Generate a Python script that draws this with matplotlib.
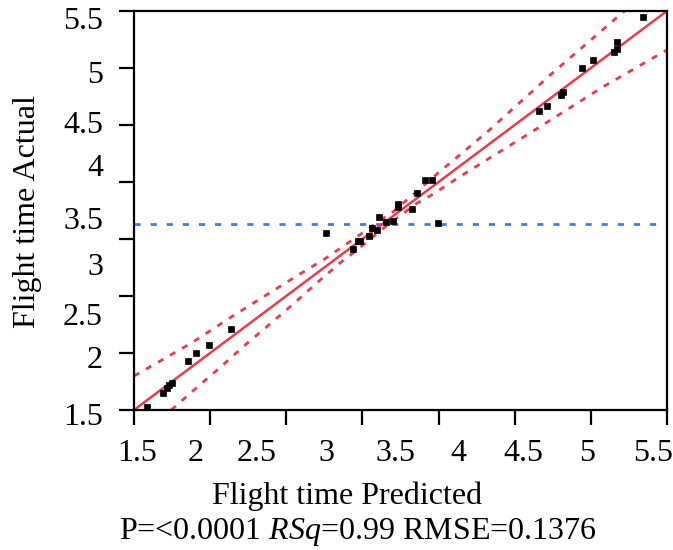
import numpy as np
import matplotlib
matplotlib.use('Agg')
import matplotlib.pyplot as plt

plt.rcParams['font.family'] = ['Liberation Serif', 'DejaVu Serif']
plt.rcParams['mathtext.fontset'] = 'custom'
plt.rcParams['mathtext.rm'] = 'Liberation Serif'
plt.rcParams['mathtext.it'] = 'Liberation Serif:italic'

# predicted vs actual flight time
predicted = [1.595, 1.72, 1.745, 1.765, 1.783, 1.903, 1.963, 2.063, 2.228,
             2.941, 3.141, 3.18, 3.20, 3.264, 3.284, 3.326, 3.341, 3.391, 3.441,
             3.484, 3.484, 3.584, 3.621, 3.684, 3.736, 3.784,
             4.542, 4.602, 4.702, 4.722, 4.86, 4.942, 5.102, 5.122, 5.122, 5.322]
actual = [1.533, 1.667, 1.717, 1.75, 1.774, 1.99, 2.068, 2.152, 2.312,
          3.271, 3.111, 3.19, 3.19, 3.244, 3.327, 3.303, 3.437, 3.383, 3.398,
          3.565, 3.538, 3.512, 3.672, 3.806, 3.806, 3.378,
          4.5, 4.551, 4.658, 4.688, 4.925, 5.009, 5.086, 5.115, 5.192, 5.435]

# fit line, mean line and confidence curves
fit_x = [1.5, 5.5]
fit_y = [1.5, 5.5]
mean_actual = 3.362
upper_x = [1.5, 1.928, 2.233, 2.533, 2.733, 2.946, 3.246, 3.37, 3.446, 3.809,
           3.984, 4.172, 4.347, 4.522, 4.609, 5.16, 5.19]
upper_y = [1.84, 2.169, 2.435, 2.686, 2.853, 3.027, 3.304, 3.42, 3.488, 3.906,
           4.10, 4.312, 4.524, 4.734, 4.841, 5.476, 5.51]
lower_x = [1.78, 1.795, 1.97, 2.153, 2.333, 2.521, 2.696, 2.883, 3.058, 3.158,
           3.37, 3.52, 3.621, 3.734, 3.934, 4.146, 4.347, 4.547, 5.022, 5.5]
lower_y = [1.50, 1.517, 1.724, 1.934, 2.15, 2.362, 2.563, 2.786, 2.987, 3.087,
           3.32, 3.47, 3.571, 3.655, 3.829, 4.006, 4.173, 4.34, 4.741, 5.11]

tick_labels = ['1.5', '2', '2.5', '3', '3.5', '4', '4.5', '5', '5.5']
xlabel_pos = [1.523, 1.965, 2.423, 2.948, 3.459, 3.932, 4.419, 4.900, 5.395]
ylabel_pos = [1.43, 2.001, 2.432, 2.924, 3.385, 3.926, 4.357, 4.858, 5.39]

red = '#ec3a4c'
blue = '#3f7be8'

fig = plt.figure(figsize=(6.73, 5.5), dpi=100)
ax = fig.add_axes([0.199, 0.2545, 0.792, 0.7255])

ax.axhline(mean_actual, color=blue, lw=2, dashes=[2.2, 3.6])
ax.plot(fit_x, fit_y, color=red, lw=1.8)
ax.plot(upper_x, upper_y, color=red, lw=2, dashes=[2.2, 2.8])
ax.plot(lower_x, lower_y, color=red, lw=2, dashes=[2.2, 2.8])
ax.plot(predicted, actual, 's', color='black', ms=4.2, mec='black', mew=0.5)

ax.set_xlim(1.5, 5.5)
ax.set_ylim(1.5, 5.5)
ax.set_xticks(np.linspace(1.5, 5.5, 8))
ax.set_yticks(np.linspace(1.5, 5.5, 8))
ax.set_xticklabels([])
ax.set_yticklabels([])
ax.tick_params(direction='out', length=10.8, width=1.6)
for s in ax.spines.values():
    s.set_linewidth(1.6)

for lab, p in zip(tick_labels, xlabel_pos):
    ax.text(p, -0.108, lab, transform=ax.get_xaxis_transform(),
            ha='center', va='center', fontsize=23, clip_on=False)
for lab, p in zip(tick_labels, ylabel_pos):
    ax.text(-0.058, p, lab, transform=ax.get_yaxis_transform(),
            ha='right', va='center', fontsize=23, clip_on=False)

fig.text(27 / 673, 1 - 212 / 550, 'Flight time Actual', rotation=90,
         ha='center', va='center', fontsize=23)
fig.text(347 / 673, 1 - 496 / 550, 'Flight time Predicted',
         ha='center', va='center', fontsize=23)
fig.text(358 / 673, 1 - 532 / 550, 'P=<0.0001 $\\mathit{RSq}$=0.99 RMSE=0.1376',
         ha='center', va='center', fontsize=23)

fig.savefig('out.png', dpi=100)
